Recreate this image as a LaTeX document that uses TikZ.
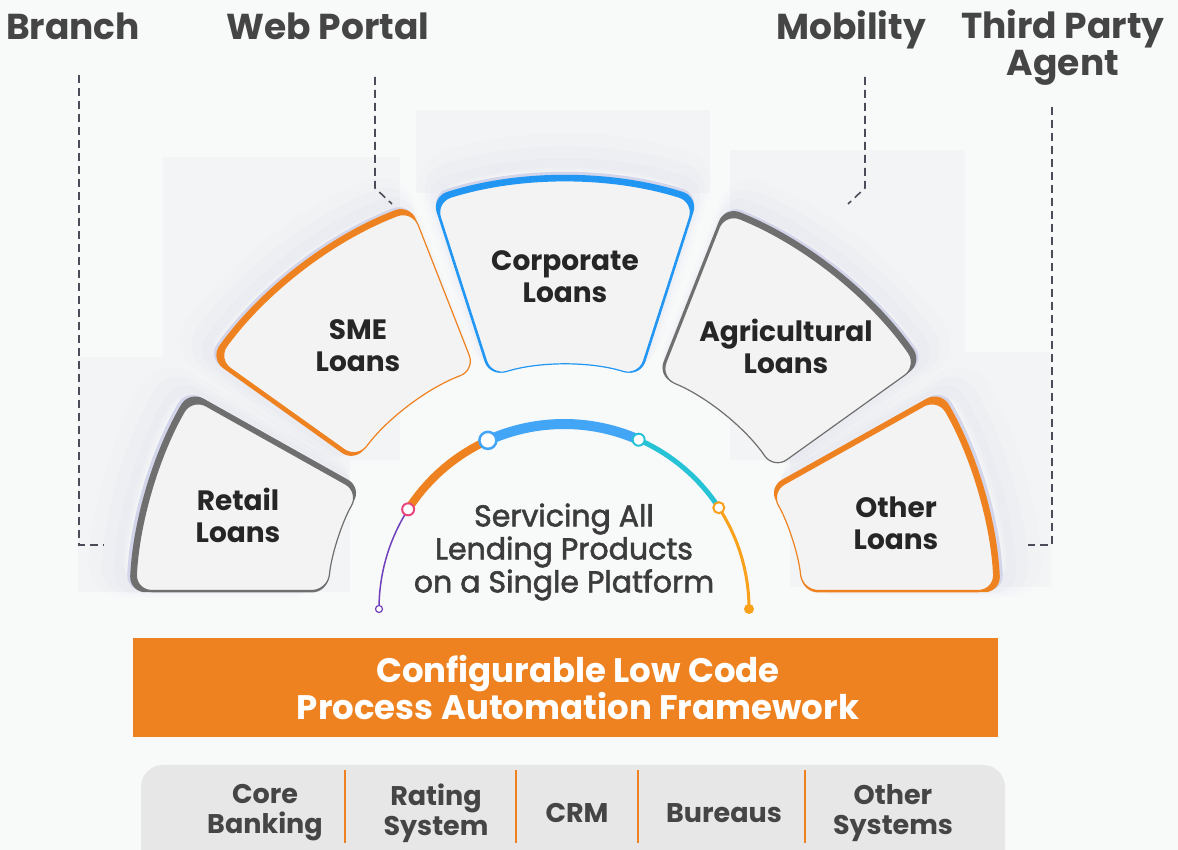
\documentclass[tikz,border=0pt]{standalone}
\usepackage{fontspec}
\setmainfont{Poppins}
\newfontfamily\medfont{Poppins}[FakeBold=2]
\usetikzlibrary{calc}
\definecolor{bg}{HTML}{F8F9F9}
\definecolor{panelc}{HTML}{F3F4F5}
\definecolor{segfill}{HTML}{F3F3F4}
\definecolor{orng}{HTML}{EF8220}
\definecolor{blu}{HTML}{2196F3}
\definecolor{gry}{HTML}{6F6F6F}
\definecolor{lav}{HTML}{D3D5EA}
\definecolor{dashc}{HTML}{4A4D57}
\definecolor{txtdark}{HTML}{262626}
\definecolor{txtgray}{HTML}{454545}
\definecolor{arcpurple}{HTML}{7040BC}
\definecolor{arcpink}{HTML}{E8457A}
\definecolor{arcblue}{HTML}{42A5F5}
\definecolor{arcteal}{HTML}{26C2D6}
\definecolor{arcamber}{HTML}{F9A11B}
\definecolor{sysfill}{HTML}{E7E7E7}

% annular segment: #1 outer start, #2 outer end, #3 inner start, #4 inner end, #5 R, #6 r
\newcommand\segshape[6]{(#1:#5pt) arc[start angle=#1,end angle=#2,radius=#5pt] -- (#3:#6pt) arc[start angle=#3,end angle=#4,radius=#6pt] -- cycle}

% band thickness: outer, inner, side 1, side 2 ; glow direction
\newcommand\setthick[6]{\def\tO{#1}\def\tI{#2}\def\tA{#3}\def\tB{#4}\def\gX{#5}\def\gY{#6}}

% #1 outer start, #2 outer end, #3 inner (side 2), #4 inner (side 1), #5 colour, #6 R, #7 r
\newcommand\segment[7]{%
  \pgfmathsetmacro\dd{2*(#2>#1)-1}%
  \pgfmathsetmacro\Rp{#6-\tO}%
  \pgfmathsetmacro\rp{#7+\tI}%
  \pgfmathsetmacro\oA{#1+\dd*\tA/\Rp*180/pi}%
  \pgfmathsetmacro\iB{#4+\dd*\tA/\rp*180/pi}%
  \pgfmathsetmacro\oB{#2-\dd*\tB/\Rp*180/pi}%
  \pgfmathsetmacro\iA{#3-\dd*\tB/\rp*180/pi}%
  \begin{scope}[shift={(565,238)}, rounded corners=16pt]
    \foreach \k/\w/\o in {3.5/34/0.05, 2.5/22/0.07, 1.5/12/0.10}{%
      \draw[lav, line width=\w pt, opacity=\o, shift={({\k*7*\gX},{\k*7*\gY})}] \segshape{#1}{#2}{#3}{#4}{#6}{#7};}
    \fill[lav, shift={({3*\gX},{3*\gY})}] \segshape{#1}{#2}{#3}{#4}{#6}{#7};
    \fill[#5] \segshape{#1}{#2}{#3}{#4}{#6}{#7};
    \filldraw[fill=segfill, draw=#5, line width=1.2pt] \segshape{\oA}{\oB}{\iA}{\iB}{\Rp}{\rp};
  \end{scope}}

\tikzset{
  toplabel/.style={font=\fontsize{36}{37}\selectfont\bfseries, text=txtgray, align=center, inner sep=0pt},
  seglabel/.style={font=\fontsize{28}{32}\selectfont\bfseries, text=txtdark, align=center, inner sep=0pt},
  dashline/.style={dashc, line width=1.6pt, dash pattern=on 8pt off 5pt},
  sysl/.style={font=\fontsize{27}{30}\selectfont\bfseries, text=txtgray, align=center, inner sep=0pt},
  marker/.style={circle, fill=white, inner sep=0pt},
  panel/.style={fill=panelc}
}

\begin{document}
\begin{tikzpicture}[x=1pt,y=1pt]
\useasboundingbox (0,0) rectangle (1178,850);
\fill[bg] (0,0) rectangle (1178,850);
% faint backdrop panels
\path[panel] (78,258) rectangle (350,493);
\path[panel] (163,390) rectangle (400,693);
\path[panel] (416,657) rectangle (710,740);
\path[panel] (730,390) rectangle (965,700);
\path[panel] (790,263) rectangle (1051,498);

% segments
\setthick{6}{0}{2}{5}{-1}{0.5}
\segment{177.4}{149.5}{148.5}{175.3}{gry}{436}{238}
\setthick{6}{0}{4}{0}{-0.8}{0.6}
\segment{144.5}{110.8}{110.4}{144.5}{orng}{436}{258}
\setthick{6}{0}{2}{2}{0}{1}
\segment{107.8}{72.2}{72.2}{107.8}{blu}{436}{247}
\setthick{6}{0}{2.5}{0}{0.7}{0.6}
\segment{68.5}{34.9}{34.4}{68.5}{gry}{436}{253}
\setthick{6}{0}{2}{5}{1}{0.5}
\segment{2.6}{30.5}{31.5}{4.7}{orng}{436}{238}

% segment labels
\node[seglabel] (retail) at (238,335) {Retail\\Loans};
\node[seglabel] (sme) at (358,504) {SME\\Loans};
\node[seglabel] (corp) at (565,573) {Corporate\\Loans};
\node[seglabel] (agri) at (786,504) {Agricultural\\Loans};
\node[seglabel] (other) at (896,327) {Other\\Loans};

% top labels and connectors
\node[toplabel, anchor=base] (br) at (73,810) {Branch};
\node[toplabel, anchor=base] (wp) at (328,810) {Web Portal};
\node[toplabel, anchor=base] (mob) at (851,810) {Mobility};
\node[toplabel] (tpa) at (1063,802) {Third Party\\Agent};
\coordinate (brA) at (79,775);
\coordinate (brB) at (104,305);
\coordinate (wpA) at (375,773);
\coordinate (wpB) at (375,662);
\coordinate (wpC) at (392,646);
\coordinate (mobA) at (865,773);
\coordinate (mobB) at (865,662);
\coordinate (mobC) at (848,646);
\coordinate (tpaA) at (1052,743);
\coordinate (tpaB) at (1028,305);
\draw[dashline] (brA) |- (brB);
\draw[dashline] (wpA) -- (wpB) -- (wpC);
\draw[dashline] (mobA) -- (mobB) -- (mobC);
\draw[dashline] (tpaA) |- (tpaB);

% central arc
\begin{scope}[shift={(564,241)}]
  \draw[arcpurple, line width=1.5pt] (180:185pt) arc[start angle=180,end angle=147.4,radius=185pt];
  \draw[orng, line width=8pt] (147.4:185pt) arc[start angle=147.4,end angle=114.3,radius=185pt];
  \draw[arcblue, line width=10pt] (114.3:185pt) arc[start angle=114.3,end angle=66.2,radius=185pt];
  \draw[arcteal, line width=5pt] (66.2:185pt) arc[start angle=66.2,end angle=33.2,radius=185pt];
  \draw[arcamber, line width=3pt] (33.2:185pt) arc[start angle=33.2,end angle=0,radius=185pt];
  \node[marker, draw=arcpurple, line width=1.2pt, minimum size=7pt] (m0) at (180:185pt) {};
  \node[marker, draw=arcpink, line width=2pt, minimum size=12pt] (m1) at (147.4:185pt) {};
  \node[marker, draw=arcblue, line width=2.5pt, minimum size=17pt] (m2) at (114.3:185pt) {};
  \node[marker, draw=arcteal, line width=2pt, minimum size=12pt] (m3) at (66.2:185pt) {};
  \node[marker, draw=arcamber, line width=2pt, minimum size=11pt] (m4) at (33.2:185pt) {};
  \node[circle, fill=arcamber, inner sep=0pt, minimum size=10pt] (m5) at (0:185pt) {};
\end{scope}
\node[font=\fontsize{30}{33}\selectfont\medfont, text=txtdark!90, align=center, inner sep=0pt] (serv) at (564,298) {Servicing All\\Lending Products\\on a Single Platform};

% orange framework bar
\node[fill=orng, minimum width=865pt, minimum height=99pt, inner sep=0pt] (bar) at (565.5,162.5) {};
\node[font=\fontsize{34}{35}\selectfont\bfseries, text=white, align=center, inner sep=0pt] (bartext) at (578,162.5) {Configurable Low Code\\Process Automation Framework};

% systems bar
\fill[sysfill, rounded corners=22pt] (141,85) rectangle (1005,-40);
\foreach \xx in {345,516,638,805}{\draw[orng, line width=2pt] (\xx,80) -- (\xx,7);}
\node[sysl] (core) at (265,37) {Core\\Banking};
\node[sysl] (rating) at (436,37) {Rating\\System};
\node[sysl] (crm) at (577,37) {CRM};
\node[sysl] (bur) at (724,37) {Bureaus};
\node[sysl] (oth) at (893,37) {Other\\Systems};
\end{tikzpicture}
\end{document}
